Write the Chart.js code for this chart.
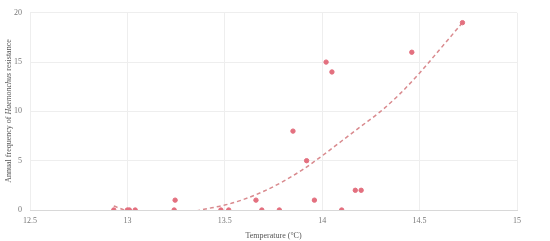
<!DOCTYPE html>
<html>
<head>
<meta charset="utf-8">
<script src="https://cdn.jsdelivr.net/npm/chart.js@4/dist/chart.umd.min.js"></script>
<style>
  html, body { margin: 0; padding: 0; background: #fff; }
  #wrap { width: 550px; height: 241px; position: relative; }
</style>
</head>
<body>
<div id="wrap"><canvas id="c"></canvas></div>
<script>
// observed points: temperature (°C) vs annual frequency
const temps = [12.93, 13.0, 13.01, 13.04, 13.24, 13.245, 13.48, 13.52, 13.66, 13.69, 13.78,
               13.85, 13.92, 13.96, 14.02, 14.05, 14.10, 14.17, 14.20, 14.46, 14.72];
const freqs = [0, 0, 0, 0, 0, 1, 0, 0, 1, 0, 0,
               8, 5, 1, 15, 14, 0, 2, 2, 16, 19];

// trend line (dips below 0 and gets clipped)
const trendX = [12.93, 13.0, 13.1, 13.2, 13.3, 13.4, 13.5, 13.6, 13.7, 13.8, 13.9,
                14.0, 14.1, 14.2, 14.3, 14.4, 14.5, 14.6, 14.72];
const trendY = [0.4, -0.1, -0.5, -0.5, -0.3, 0.1, 0.5, 1.1, 1.9, 2.9, 4.1,
                5.5, 7.0, 8.5, 10.0, 11.8, 13.9, 16.2, 19.0];

const xTicks = [12.5, 13, 13.5, 14, 14.5, 15];
const yTicks = [0, 5, 10, 15, 20];

const FONT = 'Liberation Serif';
const TICK = '#777';
const GRID = '#eeeeee';

// y title with italic genus name
const yTitle = {
  id: 'yTitle',
  afterDraw(chart) {
    const ctx = chart.ctx;
    const parts = [
      ['Annual frequency of ', 'normal'],
      ['Haemonchus', 'italic'],
      [' resistance', 'normal'],
    ];
    ctx.save();
    ctx.fillStyle = '#555';
    ctx.textBaseline = 'middle';
    let total = 0;
    parts.forEach(p => { ctx.font = p[1] + ' 8px "' + FONT + '"'; total += ctx.measureText(p[0]).width; });
    ctx.translate(9, 111);
    ctx.rotate(-Math.PI / 2);
    let x = -total / 2;
    parts.forEach(p => {
      ctx.font = p[1] + ' 8px "' + FONT + '"';
      ctx.fillText(p[0], x, 0);
      x += ctx.measureText(p[0]).width;
    });
    ctx.restore();
  }
};

new Chart(document.getElementById('c'), {
  type: 'scatter',
  data: {
    datasets: [
      {
        label: 'Observed',
        data: temps.map((t, i) => ({ x: t, y: freqs[i] })),
        backgroundColor: '#e3707f', borderColor: '#e3707f',
        pointRadius: 2.2, pointHoverRadius: 2.2,
      },
      {
        label: 'Trend',
        type: 'line',
        data: trendX.map((t, i) => ({ x: t, y: trendY[i] })),
        borderColor: '#d98a8e', borderWidth: 1.5, borderDash: [4, 3],
        pointRadius: 0, fill: false, cubicInterpolationMode: 'monotone',
        clip: 0,
      },
    ],
  },
  options: {
    responsive: true, maintainAspectRatio: false, animation: false,
    layout: { padding: { left: 0, top: 12, right: 33, bottom: 0 } },
    plugins: { legend: { display: false }, tooltip: { enabled: false } },
    scales: {
      x: {
        type: 'linear', min: 12.5, max: 15,
        afterBuildTicks: s => { s.ticks = xTicks.map(v => ({ value: v })); },
        afterFit: s => { s.height = 31; },
        ticks: { color: TICK, font: { family: FONT, size: 8 }, padding: 6, maxRotation: 0,
                 callback: v => String(v) },
        grid: { color: GRID, drawTicks: false },
        border: { color: '#d8d8d8' },
        title: { display: true, text: 'Temperature (°C)', color: '#555', font: { family: FONT, size: 8 }, padding: { top: 1, bottom: 0 } },
      },
      y: {
        min: 0, max: 20,
        afterBuildTicks: s => { s.ticks = yTicks.map(v => ({ value: v })); },
        afterFit: s => { s.width = 30; },
        ticks: { color: TICK, font: { family: FONT, size: 8 }, padding: 8 },
        grid: { color: GRID, drawTicks: false },
        border: { display: false },
      },
    },
  },
  plugins: [yTitle],
});
</script>
</body>
</html>
